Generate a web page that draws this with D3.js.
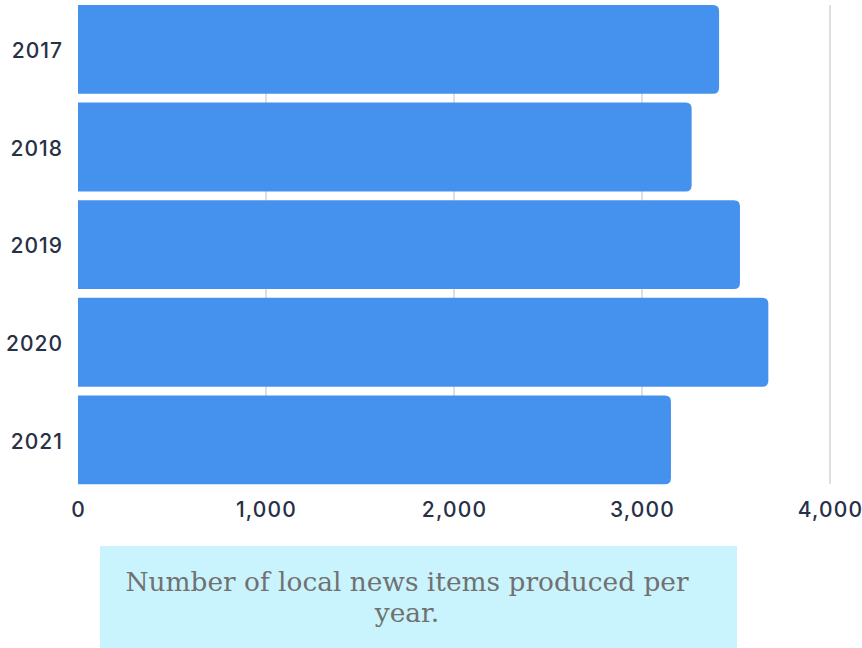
<!DOCTYPE html>
<html lang="en">
<head>
    <meta charset="UTF-8">
    <title>Local news items per year</title>
    <script src="https://cdn.jsdelivr.net/npm/d3@7"></script>
    <style>
        body { margin: 0; background: #fff; }
        svg { display: block; }
    </style>
</head>
<body>
<svg id="chart" width="862" height="648"></svg>

<script>
    // data
    var years = ["2017", "2018", "2019", "2020", "2021"];
    var items = [3410, 3264, 3521, 3672, 3154];
    var ticks = [0, 1000, 2000, 3000, 4000];
    var caption = ["Number of local news items produced per", "year."];

    var svg = d3.select("#chart");

    var x = d3.scaleLinear().domain([0, 4000]).range([78, 830]);
    var y = d3.scaleBand().domain(years).range([5, 484.3]).paddingInner(0.09).paddingOuter(0);

    var labelFont = "Inter, 'Open Sans', sans-serif";

    // gridlines
    svg.append("g")
        .selectAll("line")
        .data(ticks.slice(1))
        .join("line")
        .attr("x1", function (d) { return x(d); })
        .attr("x2", function (d) { return x(d); })
        .attr("y1", 5)
        .attr("y2", 484)
        .attr("stroke", "#d4d4da")
        .attr("stroke-width", 1.5);

    // bars, rounded on the right end only
    function barPath(x0, x1, y0, h, r) {
        return "M" + x0 + "," + y0 +
            "H" + (x1 - r) +
            "Q" + x1 + "," + y0 + " " + x1 + "," + (y0 + r) +
            "V" + (y0 + h - r) +
            "Q" + x1 + "," + (y0 + h) + " " + (x1 - r) + "," + (y0 + h) +
            "H" + x0 + "Z";
    }

    svg.append("g")
        .selectAll("path")
        .data(years)
        .join("path")
        .attr("fill", "#4592ee")
        .attr("d", function (d, i) {
            return barPath(x(0), x(items[i]), y(d), y.bandwidth(), 6);
        });

    // y axis labels
    var yAxis = svg.append("g")
        .attr("transform", "translate(78,2)")
        .call(d3.axisLeft(y).tickSize(0).tickPadding(15));
    yAxis.select(".domain").remove();
    yAxis.selectAll("text")
        .attr("fill", "#283046")
        .style("font-family", labelFont)
        .style("font-size", "21px")
        .style("font-weight", 500)
        .style("letter-spacing", "1px");

    // x axis labels
    var xAxis = svg.append("g")
        .attr("transform", "translate(0,502)")
        .call(d3.axisBottom(x).tickValues(ticks).tickSize(0).tickPadding(0).tickFormat(d3.format(",")));
    xAxis.select(".domain").remove();
    xAxis.selectAll("text")
        .attr("fill", "#283046")
        .style("font-family", labelFont)
        .style("font-size", "21px")
        .style("font-weight", 500)
        .style("letter-spacing", "1.2px");

    // caption box
    svg.append("rect")
        .attr("x", 100)
        .attr("y", 546)
        .attr("width", 637)
        .attr("height", 102)
        .attr("fill", "#c9f4fd");

    svg.append("g")
        .selectAll("text")
        .data(caption)
        .join("text")
        .attr("x", 407)
        .attr("y", function (d, i) { return 591 + i * 30.5; })
        .attr("text-anchor", "middle")
        .attr("fill", "#717171")
        .style("font-family", "'DejaVu Serif', 'Liberation Serif', serif")
        .style("font-size", "26.4px")
        .text(function (d) { return d; });
</script>
</body>
</html>
